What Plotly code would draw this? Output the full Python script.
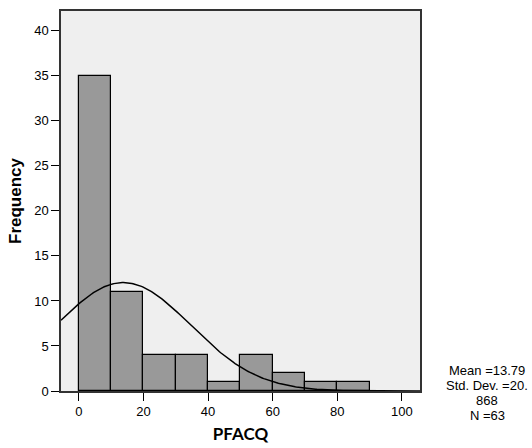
import numpy as np
import plotly.graph_objects as go

bin_starts = [0, 10, 20, 30, 40, 50, 60, 70, 80]
frequencies = [35, 11, 4, 4, 1, 4, 2, 1, 1]
bin_width = 10
mean_val = 13.79
sd_val = 20.868
n_val = 63
stats_lines = ["Mean =13.79", "Std. Dev. =20.", "868", "N =63"]

centers = [b + bin_width / 2 for b in bin_starts]

# Fitted normal curve from the stated mean / SD / N (as SPSS draws it)
xs = np.linspace(-5.5, 105.6, 300)
ys = n_val * bin_width / (sd_val * np.sqrt(2 * np.pi)) * np.exp(-((xs - mean_val) ** 2) / (2 * sd_val ** 2))

fig = go.Figure()
fig.add_trace(go.Bar(
    x=centers, y=frequencies, width=[bin_width] * len(centers),
    marker=dict(color="#999999", line=dict(color="#000000", width=1.2)),
    showlegend=False, hoverinfo="skip",
))
fig.add_trace(go.Scatter(
    x=xs, y=ys, mode="lines", line=dict(color="#000000", width=1.5),
    showlegend=False, hoverinfo="skip",
))

L, R, T, B = 61, 112, 11, 57
H = 448
plot_h = H - T - B

annotations = []
line_centers_px = [370, 385, 400, 415]
for txt, py in zip(stats_lines, line_centers_px):
    annotations.append(dict(
        text=txt, xref="paper", yref="paper",
        x=(487 - L) / (532 - L - R), y=(H - B - py) / plot_h,
        xanchor="center", yanchor="middle", showarrow=False,
        font=dict(family="Liberation Sans, Arial, sans-serif", size=13, color="#000"),
    ))

fig.update_layout(
    width=532, height=448,
    margin=dict(l=L, r=R, t=T, b=B, autoexpand=False),
    paper_bgcolor="white", plot_bgcolor="#EFEFEF",
    bargap=0,
    font=dict(family="Liberation Sans, Arial, sans-serif", size=13, color="#000000"),
    xaxis=dict(
        range=[-5.5, 105.6], tickvals=[0, 20, 40, 60, 80, 100],
        ticks="outside", ticklen=8, tickwidth=1.2, tickcolor="#000",
        showgrid=False, zeroline=False, automargin=False,
        showline=True, linecolor="#333", linewidth=1.5, mirror=True,
        title=dict(text="<b>PFACQ</b>", font=dict(family="Lato, Open Sans, sans-serif", size=17), standoff=10),
        tickfont=dict(size=13),
    ),
    yaxis=dict(
        range=[0, 42.2], tickvals=[0, 5, 10, 15, 20, 25, 30, 35, 40],
        ticks="outside", ticklen=8, tickwidth=1.2, tickcolor="#000",
        showgrid=False, zeroline=False, automargin=False,
        showline=True, linecolor="#333", linewidth=1.5, mirror=True,
        title=dict(text="<b>Frequency</b>", font=dict(family="Liberation Sans, Arial, sans-serif", size=17), standoff=8),
        tickfont=dict(size=13),
    ),
    annotations=annotations,
)

fig.write_html("out.html", config={"displayModeBar": False},
               post_script="document.body.style.margin='0';document.body.style.padding='0';")
